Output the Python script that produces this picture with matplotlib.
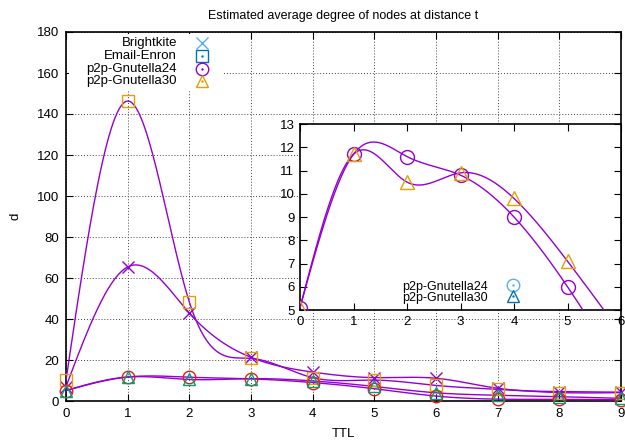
import numpy as np
import matplotlib
matplotlib.use("Agg")
import matplotlib.pyplot as plt
from matplotlib.patches import Rectangle

plt.rcParams['font.family'] = ['Liberation Sans', 'DejaVu Sans']

# ---------------- data ----------------
ttl = [0, 1, 2, 3, 4, 5, 6, 7, 8, 9]
brightkite = [7.0, 65.4, 42.9, 21.3, 14.1, 11.4, 11.1, 6.2, 4.6, 4.3]
email_enron = [10.2, 146.3, 48.3, 20.8, 11.4, 10.2, 7.6, 5.7, 4.1, 4.1]
gnutella24 = [5.1, 11.7, 11.6, 10.8, 9.0, 6.0, 2.4, 0.9, 0.8, 0.6]
gnutella30 = [5.1, 11.7, 10.5, 10.9, 9.8, 7.1, 4.0, 2.8, 2.1, 1.3]

series_names = ["Brightkite", "Email-Enron", "p2p-Gnutella24", "p2p-Gnutella30"]
inset_names = ["p2p-Gnutella24", "p2p-Gnutella30"]

title = "Estimated average degree of nodes at distance t"
xlabel = "TTL"
ylabel = "d"

PURPLE = "#9400d3"
GREEN = "#009e73"
LBLUE = "#56b4e9"
ORANGE = "#e69f00"
BLUE = "#0072b2"
RED = "#e51e10"


def natural_spline(x, y, xs):
    x = np.asarray(x, float)
    y = np.asarray(y, float)
    n = len(x)
    h = np.diff(x)
    A = np.zeros((n, n))
    b = np.zeros(n)
    A[0, 0] = 1
    A[-1, -1] = 1
    for i in range(1, n - 1):
        A[i, i - 1] = h[i - 1]
        A[i, i] = 2 * (h[i - 1] + h[i])
        A[i, i + 1] = h[i]
        b[i] = 6 * ((y[i + 1] - y[i]) / h[i] - (y[i] - y[i - 1]) / h[i - 1])
    M = np.linalg.solve(A, b)
    xs = np.asarray(xs, float)
    idx = np.clip(np.searchsorted(x, xs) - 1, 0, n - 2)
    x0, x1 = x[idx], x[idx + 1]
    hh = x1 - x0
    t0 = x1 - xs
    t1 = xs - x0
    return (M[idx] * t0 ** 3 / (6 * hh) + M[idx + 1] * t1 ** 3 / (6 * hh)
            + (y[idx] / hh - M[idx] * hh / 6) * t0
            + (y[idx + 1] / hh - M[idx + 1] * hh / 6) * t1)


W, H = 625, 440
fig = plt.figure(figsize=(W / 100, H / 100), dpi=100)

# main axes: pixel box left=66, right=621, top=32, bottom=401
L, R, T, B = 66, 621, 32, 401
ax = fig.add_axes([L / W, 1 - B / H, (R - L) / W, (B - T) / H])
ax.set_xlim(0, 9)
ax.set_ylim(0, 180)
ax.set_xticks(range(0, 10))
ax.set_yticks(range(0, 181, 20))
ax.tick_params(direction='in', length=5, width=0.8, top=True, right=True,
               labelsize=9.5, pad=5)
for s in ax.spines.values():
    s.set_linewidth(1.2)
ax.grid(True, color='#444444', linestyle=(0, (1, 2)), linewidth=0.7)
ax.set_axisbelow(True)

ax.set_title(title, fontsize=9, pad=9)
ax.set_xlabel(xlabel, fontsize=9.5, labelpad=6)
ax.set_ylabel(ylabel, fontsize=9.5, labelpad=11)

xs = np.linspace(0, 9, 600)
main_series = [
    (brightkite, 'x', PURPLE, 9, 'none'),
    (email_enron, 's', ORANGE, 9, 'none'),
    (gnutella24, 'o', RED, 9, 'none'),
    (gnutella30, '^', GREEN, 9, 'none'),
]
for vals, mk, col, ms, fc in main_series:
    ax.plot(xs, natural_spline(ttl, vals, xs), color=PURPLE, lw=1.0, zorder=3,
            clip_on=True)
for vals, mk, col, ms, fc in main_series:
    ax.plot(ttl, vals, linestyle='none', marker=mk, ms=ms, mfc=fc, mec=col,
            mew=1.0, zorder=4, clip_on=False)

# legend (gnuplot style: right-aligned text, marker sample to the right)
ax.add_patch(Rectangle((0.005, 0.84), 0.28, 0.155, transform=ax.transAxes,
                       facecolor='white', edgecolor='none', zorder=2))
leg_y = [0.970, 0.935, 0.900, 0.867]
leg_style = [('x', LBLUE), ('s', BLUE), ('o', PURPLE), ('^', ORANGE)]
for name, yy, (mk, col) in zip(series_names, leg_y, leg_style):
    ax.text(0.200, yy, name, transform=ax.transAxes, ha='right', va='center',
            fontsize=9.5, zorder=5)
    ax.plot([0.245], [yy], transform=ax.transAxes, marker=mk, ms=9, mfc='none',
            mec=col, mew=1.0, linestyle='none', zorder=5, clip_on=False)
    if mk != 'x':
        ax.plot([0.245], [yy], transform=ax.transAxes, marker='.', ms=1.5,
                color=col, linestyle='none', zorder=5, clip_on=False)

# inset axes: pixel box left=300, right=621, top=124, bottom=310
iL, iR, iT, iB = 300, 621, 124, 310
ax2 = fig.add_axes([iL / W, 1 - iB / H, (iR - iL) / W, (iB - iT) / H])
ax2.set_facecolor('white')
ax2.set_xlim(0, 6)
ax2.set_ylim(5, 13)
ax2.set_xticks(range(0, 7))
ax2.set_yticks(range(5, 14))
ax2.tick_params(direction='in', length=5, width=0.8, top=True, right=True,
                labelsize=9.5, pad=4)
for s in ax2.spines.values():
    s.set_linewidth(1.2)

ttl_in = ttl[:7]
xs2 = np.linspace(0, 6, 500)
for vals in (gnutella24[:7], gnutella30[:7]):
    ax2.plot(xs2, natural_spline(ttl_in, vals, xs2), color=PURPLE, lw=1.0,
             zorder=3)
ax2.plot(ttl_in, gnutella24[:7], linestyle='none', marker='o', ms=10,
         mfc='none', mec=PURPLE, mew=1.0, zorder=4)
ax2.plot(ttl_in, gnutella30[:7], linestyle='none', marker='^', ms=10,
         mfc='none', mec=ORANGE, mew=1.0, zorder=4)

ileg_y = [0.126, 0.066]
ileg_style = [('o', LBLUE), ('^', BLUE)]
for name, yy, (mk, col) in zip(inset_names, ileg_y, ileg_style):
    ax2.text(0.586, yy, name, transform=ax2.transAxes, ha='right', va='center',
             fontsize=9, zorder=5)
    ax2.plot([0.664], [yy + 0.01], transform=ax2.transAxes, marker=mk, ms=9,
             mfc='none', mec=col, mew=1.0, linestyle='none', zorder=5)
    ax2.plot([0.664], [yy + 0.01], transform=ax2.transAxes, marker='.', ms=1.5,
             color=col, linestyle='none', zorder=5)

fig.savefig("out.png", dpi=100)
